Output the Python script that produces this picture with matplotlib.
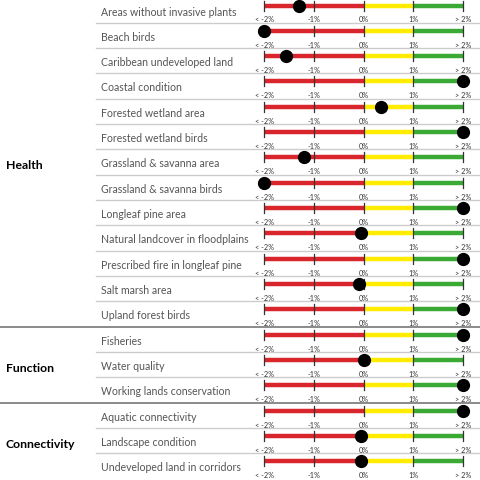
import matplotlib
matplotlib.use("Agg")
import matplotlib.pyplot as plt

labels = ["Areas without invasive plants","Beach birds","Caribbean undeveloped land","Coastal condition",
          "Forested wetland area","Forested wetland birds","Grassland & savanna area","Grassland & savanna birds",
          "Longleaf pine area","Natural landcover in floodplains","Prescribed fire in longleaf pine","Salt marsh area",
          "Upland forest birds","Fisheries","Water quality","Working lands conservation",
          "Aquatic connectivity","Landscape condition","Undeveloped land in corridors"]
values = [-1.3,-2,-1.55,2,0.35,2,-1.2,-2,2,-0.05,2,-0.1,2,2,0.02,2,2,-0.05,-0.05]
groups = [("Health",0,13),("Function",13,16),("Connectivity",16,19)]
tick_labels = ["< -2%","-1%","0%","1%","> 2%"]

fig = plt.figure(figsize=(4.8,4.81),dpi=100)
ax = fig.add_axes([0,0,1,1])
ax.set_xlim(0,480); ax.set_ylim(481,0); ax.axis("off")
plt.rcParams['font.family'] = ['Lato','DejaVu Sans']
rh = 25.33
x0, sc = 363.5, 49.7
def px(v): return x0 + v*sc
for i,(lab,v) in enumerate(zip(labels,values)):
    top = i*rh
    yb = top + 6.5
    ax.text(101, top+12, lab, fontsize=7.6, color="#555555", va="center", ha="left")
    ax.plot([px(-2),px(0)],[yb,yb],color="#d9262c",lw=3.2,solid_capstyle="butt",zorder=2)
    ax.plot([px(0),px(1)],[yb,yb],color="#ffec00",lw=3.2,solid_capstyle="butt",zorder=2)
    ax.plot([px(1),px(2)],[yb,yb],color="#3aaa35",lw=3.2,solid_capstyle="butt",zorder=2)
    for k,t in enumerate(tick_labels):
        xx = px(k-2)
        ax.plot([xx,xx],[yb-5,yb+5],color="#333333",lw=0.9,zorder=3)
        ax.text(xx, yb+13.5, t, fontsize=5.2, color="#333333", ha="center", va="center")
    ax.plot([px(v)],[yb],"o",color="black",ms=8.5,zorder=4)
    sep = (i+1)*rh - 1.5
    if i < 18:
        if i in (12,15):
            ax.plot([0,480],[sep,sep],color="#777777",lw=1.2)
        else:
            ax.plot([96,480],[sep,sep],color="#cccccc",lw=1.0)
for name,a,b in groups:
    yc = ((a+b)/2)*rh + 1
    ax.text(6, yc, name, fontsize=8.8, fontweight="bold", color="black", va="center", ha="left")
fig.savefig("out.png",dpi=100)
